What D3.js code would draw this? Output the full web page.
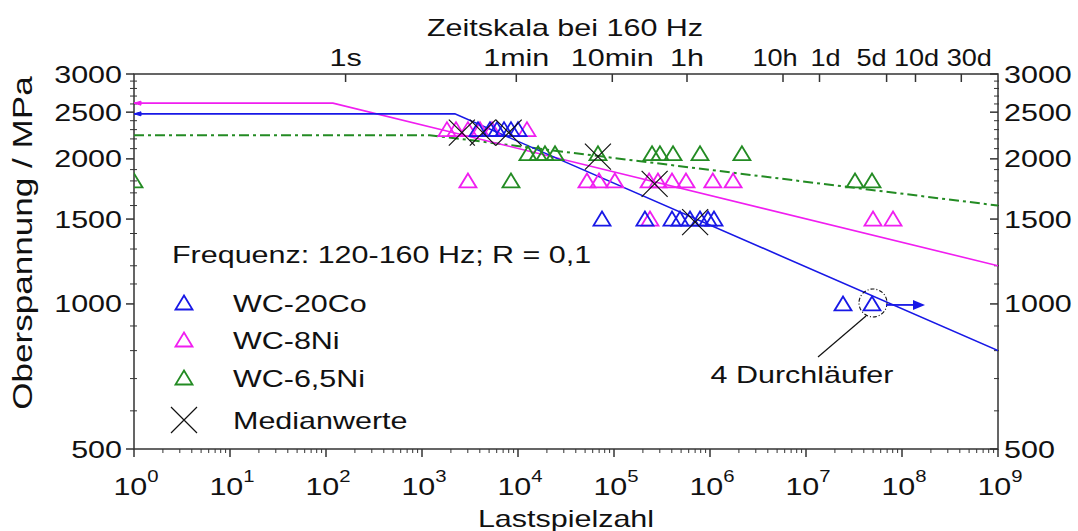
<!DOCTYPE html>
<html>
<head>
<meta charset="utf-8">
<title>Wöhlerlinien Hartmetalle</title>
<script src="https://cdn.jsdelivr.net/npm/d3@7"></script>
<style>
  body { margin: 0; background: #fff; }
  text { font-family: "Liberation Sans", Arial, sans-serif; fill: #111; }
  .frame line, .frame path { stroke: #333; stroke-width: 1.5px; fill: none; }
</style>
</head>
<body>
<script>
var WIDTH = 1078, HEIGHT = 531;
var SX = 1.27;   // Schrift im Original breit gezogen
var FONT = 24;

// Messpunkte: [Lastspielzahl, Oberspannung MPa]
var co20 = [
  [3830, 2300], [5110, 2300], [6040, 2300], [7150, 2300], [8450, 2300], [10000, 2300],
  [75000, 1500], [210000, 1500], [402000, 1500], [487000, 1500], [619000, 1500],
  [787000, 1500], [953000, 1500], [1100000, 1500],
  [24300000, 1000], [48700000, 1000]
];
var ni8 = [
  [1820, 2300], [2260, 2300], [3010, 2300], [4020, 2300], [5360, 2300], [12400, 2300],
  [3010, 1800], [52300, 1800], [69800, 1800], [102000, 1800], [232000, 1800],
  [287000, 1800], [402000, 1800], [562000, 1800], [1070000, 1800], [1740000, 1800],
  [237000, 1500], [49900000, 1500], [80600000, 1500]
];
var ni65 = [
  [12700, 2050], [16200, 2050], [19100, 2050], [24300, 2050], [68100, 2050],
  [249000, 2050], [301000, 2050], [412000, 2050], [787000, 2050], [2150000, 2050],
  [1, 1800], [8450, 1800], [32400000, 1800], [48700000, 1800]
];
var median = [
  [2600, 2300], [4300, 2300], [8000, 2300], [68000, 2050], [265000, 1800], [700000, 1500]
];

// Wöhlerlinien (Knickpunkt + Endpunkt)
var co20Line = [[1, 2480], [2200, 2480], [1e9, 800]];
var ni8Line  = [[1, 2610], [118, 2610], [1e9, 1200]];
var ni65Line = [[1, 2240], [1200, 2240], [1e9, 1600]];

var runout = [48700000, 1000];   // 4 Durchläufer

var yMajor = [500, 1000, 1500, 2000, 2500, 3000];
var yMinor = [600, 700, 800, 900, 1100, 1200, 1300, 1400, 1600, 1700, 1800, 1900,
              2100, 2200, 2300, 2400, 2600, 2700, 2800, 2900];
var xExp = [0, 1, 2, 3, 4, 5, 6, 7, 8, 9];

var FREQ = 160;
var timeLabels  = ["1s", "1min", "10min", "1h", "10h", "1d", "5d", "10d", "30d"];
var timeSeconds = [1, 60, 600, 3600, 36000, 86400, 432000, 864000, 2592000];

var legendItems = [
  { name: "WC-20Co", color: "#1818e6", type: "tri" },
  { name: "WC-8Ni", color: "#f01ef0", type: "tri" },
  { name: "WC-6,5Ni", color: "#238b23", type: "tri" },
  { name: "Medianwerte", color: "#111", type: "x" }
];

var BLUE = "#1818e6", PINK = "#f01ef0", GREEN = "#238b23";

var margin = { left: 134, right: 80, top: 74, bottom: 82 };
var x = d3.scaleLog().domain([1, 1e9]).range([margin.left, WIDTH - margin.right]);
var y = d3.scaleLog().domain([500, 3000]).range([HEIGHT - margin.bottom, margin.top]);
var x0 = x.range()[0], x1 = x.range()[1], yb = y.range()[0], yt = y.range()[1];

var svg = d3.select("body").append("svg")
  .attr("width", WIDTH)
  .attr("height", HEIGHT);

function txt(parent, px, py, s, anchor, size, sx) {
  return parent.append("text")
    .attr("transform", "translate(" + px + "," + py + ") scale(" + (sx || SX) + ",1)")
    .attr("text-anchor", anchor || "start")
    .style("font-size", (size || FONT) + "px")
    .text(s);
}

var TRI = "M0,-7.5L8.5,6.5L-8.5,6.5Z";
var CROSS = "M-13,-13L13,13M13,-13L-13,13";

// Rahmen und Achsen
var frame = svg.append("g").attr("class", "frame");
frame.append("rect")
  .attr("x", x0).attr("y", yt).attr("width", x1 - x0).attr("height", yb - yt)
  .attr("fill", "none").attr("stroke", "#333").attr("stroke-width", 1.5);

// links
frame.selectAll(".ylmaj").data(yMajor).enter().append("line")
  .attr("x1", x0 - 8).attr("x2", x0).attr("y1", d => y(d)).attr("y2", d => y(d));
frame.selectAll(".ylmin").data(yMinor).enter().append("line")
  .attr("x1", x0 - 4).attr("x2", x0 + 3).attr("y1", d => y(d)).attr("y2", d => y(d))
  .style("stroke-width", "1px");
// rechts
frame.selectAll(".yrmaj").data(yMajor).enter().append("line")
  .attr("x1", x1 - 8).attr("x2", x1).attr("y1", d => y(d)).attr("y2", d => y(d));
frame.selectAll(".yrmin").data(yMinor).enter().append("line")
  .attr("x1", x1 - 4).attr("x2", x1 + 1).attr("y1", d => y(d)).attr("y2", d => y(d))
  .style("stroke-width", "1px");
// unten
var xMinor = [];
xExp.slice(0, -1).forEach(function(e) {
  for (var k = 2; k <= 9; k++) xMinor.push(k * Math.pow(10, e));
});
frame.selectAll(".xmaj").data(xExp).enter().append("line")
  .attr("x1", d => x(Math.pow(10, d))).attr("x2", d => x(Math.pow(10, d)))
  .attr("y1", yb).attr("y2", yb + 8);
frame.selectAll(".xmin").data(xMinor).enter().append("line")
  .attr("x1", d => x(d)).attr("x2", d => x(d))
  .attr("y1", yb).attr("y2", yb + 4)
  .style("stroke-width", "1px");
// oben: Zeitskala
frame.selectAll(".tmaj").data(timeSeconds).enter().append("line")
  .attr("x1", d => x(d * FREQ)).attr("x2", d => x(d * FREQ))
  .attr("y1", yt).attr("y2", yt + 8);

// Beschriftungen
var labels = svg.append("g");
yMajor.forEach(function(v) {
  txt(labels, x0 - 12, y(v) + 8.5, String(v), "end");
  txt(labels, x1 + 6, y(v) + 8.5, String(v), "start");
});
xExp.forEach(function(e) {
  var t = txt(labels, x(Math.pow(10, e)) + 2, yb + 46, "10", "middle");
  t.append("tspan").attr("dy", -13).style("font-size", "16px").text(String(e));
});
// rechte Zeitlabels stehen eng, im Original leicht verschoben
var timeNudge = { "10h": -8, "1d": 6, "5d": -15, "10d": 1, "30d": 8 };
timeLabels.forEach(function(s, i) {
  var dx = timeNudge[s] || 0;
  txt(labels, x(timeSeconds[i] * FREQ) + dx, 66, s, "middle", FONT, i > 3 ? 1.13 : SX);
});
txt(labels, 565, 36, "Zeitskala bei 160 Hz", "middle");
txt(labels, 566, 527, "Lastspielzahl", "middle");
labels.append("text")
  .attr("transform", "translate(32,243) rotate(-90) scale(1.3,1)")
  .attr("text-anchor", "middle")
  .style("font-size", "27px")
  .text("Oberspannung / MPa");

// Datenbereich
svg.append("clipPath").attr("id", "plotclip")
  .append("rect").attr("x", x0).attr("y", yt).attr("width", x1 - x0).attr("height", yb - yt);
var plot = svg.append("g").attr("clip-path", "url(#plotclip)");

var line = d3.line().x(d => x(d[0])).y(d => y(d[1]));
plot.append("path").datum(ni65Line).attr("d", line)
  .attr("fill", "none").attr("stroke", GREEN).attr("stroke-width", 2)
  .attr("stroke-dasharray", "10,4,3,4");
plot.append("path").datum(ni8Line).attr("d", line)
  .attr("fill", "none").attr("stroke", PINK).attr("stroke-width", 1.6);
plot.append("path").datum(co20Line).attr("d", line)
  .attr("fill", "none").attr("stroke", BLUE).attr("stroke-width", 1.6);

// kleine Pfeilspitzen am linken Rand
[[co20Line, BLUE], [ni8Line, PINK]].forEach(function(p) {
  var py = y(p[0][0][1]), px = x(p[0][0][0]);
  plot.append("path")
    .attr("d", "M" + px + "," + py + "l7,-2l0,4z")
    .attr("fill", p[1]).attr("stroke", p[1]);
});

function tris(data, color) {
  plot.selectAll(null).data(data).enter().append("path")
    .attr("d", TRI)
    .attr("transform", d => "translate(" + x(d[0]) + "," + y(d[1]) + ")")
    .attr("fill", "none").attr("stroke", color).attr("stroke-width", 1.8);
}
tris(ni65, GREEN);
tris(ni8, PINK);
tris(co20, BLUE);

plot.selectAll(null).data(median).enter().append("path")
  .attr("d", CROSS)
  .attr("transform", d => "translate(" + x(d[0]) + "," + (y(d[1]) + 3) + ")")
  .attr("fill", "none").attr("stroke", "#111").attr("stroke-width", 1.2);

// Durchläufer-Markierung
var rx = x(runout[0]), ry = y(runout[1]) - 1;
svg.append("circle").attr("cx", rx + 1).attr("cy", ry).attr("r", 14)
  .attr("fill", "none").attr("stroke", "#111").attr("stroke-width", 1.1)
  .attr("stroke-dasharray", "4,2,1,2");
svg.append("line")
  .attr("x1", rx + 14).attr("y1", ry + 2).attr("x2", rx + 43).attr("y2", ry + 2)
  .attr("stroke", BLUE).attr("stroke-width", 1.8);
svg.append("path")
  .attr("d", "M" + (rx + 53) + "," + (ry + 2) + "l-12,-5l0,10z")
  .attr("fill", BLUE);
svg.append("line")
  .attr("x1", rx - 6).attr("y1", ry + 13).attr("x2", rx - 54).attr("y2", ry + 54)
  .attr("stroke", "#111").attr("stroke-width", 1.2);
txt(svg, rx - 70, ry + 80, "4 Durchläufer", "middle");

// Legende
var leg = svg.append("g");
txt(leg, 172, 263, "Frequenz: 120-160 Hz; R = 0,1", "start");
var rowsY = [303, 340, 378, 420];
legendItems.forEach(function(d, i) {
  leg.append("path")
    .attr("d", d.type === "tri" ? TRI : CROSS)
    .attr("transform", "translate(184," + rowsY[i] + ")")
    .attr("fill", "none").attr("stroke", d.color)
    .attr("stroke-width", d.type === "tri" ? 1.8 : 1.2);
  txt(leg, 233, rowsY[i] + 9, d.name, "start");
});
</script>
</body>
</html>
